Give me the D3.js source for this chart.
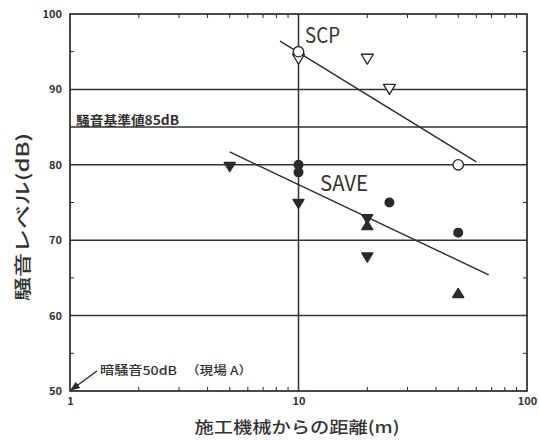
<!DOCTYPE html>
<html>
<head>
<meta charset="utf-8">
<script src="https://cdn.jsdelivr.net/npm/d3@7"></script>
<style>
  html, body { margin: 0; padding: 0; background: #fff; }
  svg { display: block; }
  text { font-family: "Noto Sans CJK JP", "Liberation Sans", sans-serif; fill: #333; }
</style>
</head>
<body>
<svg id="chart" width="539" height="440"></svg>
<script>
// Axis ticks and reference lines
const xTicks = [1, 10, 100];
const yTicks = [50, 60, 70, 80, 90, 100];
const yMinorTicks = [55, 65, 75, 95];
const xMinorTicks = [2, 3, 4, 5, 6, 7, 8, 9, 20, 30, 40, 50, 60, 70, 80, 90];
const gridY = [60, 70, 80, 85, 90];
const gridX = [10];

// SCP measurements (open markers): distance (m), level (dB)
const scpCircleX = [10, 50];
const scpCircleY = [95, 80];
const scpTriDownX = [10, 20, 25];
const scpTriDownY = [94, 94, 90];

// SAVE measurements (filled markers)
const saveCircleX = [10, 10, 25, 50];
const saveCircleY = [80, 79, 75, 71];
const saveTriDownX = [5, 10, 20, 20];
const saveTriDownY = [79.7, 74.8, 72.8, 67.7];
const saveTriUpX = [20, 50];
const saveTriUpY = [72, 63];

// Trend lines (endpoints)
const scpFitX = [8.3, 60];
const scpFitY = [96.4, 80.4];
const saveFitX = [5, 68];
const saveFitY = [81.7, 65.4];

const ink = "#2a2a2a";
const svg = d3.select("#chart");
const x = d3.scaleLog().domain([1, 100]).range([70, 527]);
const y = d3.scaleLinear().domain([50, 100]).range([391, 14]);

// Grid lines
svg.append("g").selectAll("line").data(gridY).join("line")
  .attr("x1", x(1)).attr("x2", x(100))
  .attr("y1", d => y(d)).attr("y2", d => y(d))
  .attr("stroke", "#333").attr("stroke-width", 1.5);
svg.append("g").selectAll("line").data(gridX).join("line")
  .attr("x1", d => x(d)).attr("x2", d => x(d))
  .attr("y1", y(50)).attr("y2", y(100))
  .attr("stroke", "#333").attr("stroke-width", 1.5);

// Frame
svg.append("rect")
  .attr("x", x(1)).attr("y", y(100))
  .attr("width", x(100) - x(1)).attr("height", y(50) - y(100))
  .attr("fill", "none").attr("stroke", ink).attr("stroke-width", 1.7);

// Axes with labels
const yAxis = svg.append("g").attr("transform", `translate(${x(1)},0)`)
  .call(d3.axisLeft(y).tickValues(yTicks).tickSize(0).tickPadding(8).tickFormat(d3.format("d")));
yAxis.select(".domain").remove();
yAxis.selectAll("text").attr("font-family", "Liberation Sans, Arial, sans-serif")
  .attr("font-size", 11).attr("font-weight", "bold").attr("fill", "#444");

const xAxis = svg.append("g").attr("transform", `translate(0,${y(50)})`)
  .call(d3.axisBottom(x).tickValues(xTicks).tickSize(0).tickPadding(6).tickFormat(d3.format("d")));
xAxis.select(".domain").remove();
xAxis.selectAll("text").attr("font-family", "Liberation Sans, Arial, sans-serif")
  .attr("font-size", 11).attr("font-weight", "bold").attr("fill", "#444");

// Minor ticks (inward) on all four sides
const tk = 4;
const minor = svg.append("g").attr("stroke", ink).attr("stroke-width", 1);
yMinorTicks.forEach(v => {
  minor.append("line").attr("x1", x(1)).attr("x2", x(1) + tk).attr("y1", y(v)).attr("y2", y(v));
  minor.append("line").attr("x1", x(100)).attr("x2", x(100) - tk).attr("y1", y(v)).attr("y2", y(v));
});
xMinorTicks.forEach(v => {
  minor.append("line").attr("x1", x(v)).attr("x2", x(v)).attr("y1", y(50)).attr("y2", y(50) - tk);
  minor.append("line").attr("x1", x(v)).attr("x2", x(v)).attr("y1", y(100)).attr("y2", y(100) + tk);
});

// Trend lines
const fit = (xs, ys) => d3.line().x(d => x(d[0])).y(d => y(d[1]))(d3.zip(xs, ys));
svg.append("path").attr("d", fit(scpFitX, scpFitY)).attr("fill", "none").attr("stroke", ink).attr("stroke-width", 1.4);
svg.append("path").attr("d", fit(saveFitX, saveFitY)).attr("fill", "none").attr("stroke", ink).attr("stroke-width", 1.4);

// Marker shapes
const triDown = (w, h) => `M${-w/2},${-h/2}L${w/2},${-h/2}L0,${h/2}Z`;
const triUp = (w, h) => `M${-w/2},${h/2}L${w/2},${h/2}L0,${-h/2}Z`;

function circles(xs, ys, r, filled) {
  svg.append("g").selectAll("circle").data(d3.zip(xs, ys)).join("circle")
    .attr("cx", d => x(d[0])).attr("cy", d => y(d[1])).attr("r", r)
    .attr("fill", filled ? ink : "#fff").attr("stroke", ink).attr("stroke-width", 1.4);
}
function tris(xs, ys, shape, filled) {
  svg.append("g").selectAll("path").data(d3.zip(xs, ys)).join("path")
    .attr("transform", d => `translate(${x(d[0])},${y(d[1])})`)
    .attr("d", shape)
    .attr("fill", filled ? ink : "#fff").attr("stroke", ink).attr("stroke-width", 1.4)
    .attr("stroke-linejoin", "round");
}

tris(scpTriDownX, scpTriDownY, triDown(12, 10), false);
circles(scpCircleX, scpCircleY, 5.2, false);
circles(saveCircleX, saveCircleY, 4.3, true);
tris(saveTriDownX, saveTriDownY, triDown(11, 9), true);
tris(saveTriUpX, saveTriUpY, triUp(11, 9), true);

// Series labels
svg.append("text").attr("x", 305).attr("y", 43)
  .attr("font-family", "DejaVu Sans Condensed, DejaVu Sans, sans-serif")
  .attr("font-size", 21).attr("textLength", 35).attr("lengthAdjust", "spacingAndGlyphs")
  .attr("fill", "#2a2a2a").text("SCP");
svg.append("text").attr("x", 320).attr("y", 191)
  .attr("font-family", "DejaVu Sans Condensed, DejaVu Sans, sans-serif")
  .attr("font-size", 21).attr("textLength", 48).attr("lengthAdjust", "spacingAndGlyphs")
  .attr("fill", "#2a2a2a").text("SAVE");

// Standard value label above the 85 dB line
svg.append("text").attr("x", 76).attr("y", 125)
  .attr("font-size", 13).attr("font-weight", "bold")
  .attr("textLength", 103).attr("lengthAdjust", "spacingAndGlyphs")
  .text("騒音基準値85dB");

// Background noise annotation with arrow
svg.append("defs").append("marker")
  .attr("id", "arrow").attr("viewBox", "0 0 10 10").attr("refX", 9).attr("refY", 5)
  .attr("markerWidth", 7).attr("markerHeight", 7).attr("orient", "auto")
  .append("path").attr("d", "M0,1L10,5L0,9Z").attr("fill", ink);
svg.append("line")
  .attr("x1", 97).attr("y1", 371).attr("x2", x(1) + 1).attr("y2", y(50) - 1)
  .attr("stroke", ink).attr("stroke-width", 1.4).attr("marker-end", "url(#arrow)");
svg.append("text").attr("x", 100).attr("y", 375)
  .attr("font-size", 12).attr("font-weight", 500)
  .attr("textLength", 77).attr("lengthAdjust", "spacingAndGlyphs")
  .text("暗騒音50dB");
svg.append("text").attr("x", 186).attr("y", 375)
  .attr("font-size", 12).attr("font-weight", 500)
  .attr("textLength", 66).attr("lengthAdjust", "spacingAndGlyphs")
  .text("（現場 A）");

// Axis titles
svg.append("text").attr("x", 297).attr("y", 433).attr("text-anchor", "middle")
  .attr("font-size", 16).attr("font-weight", 500)
  .attr("textLength", 205).attr("lengthAdjust", "spacingAndGlyphs")
  .text("施工機械からの距離(m)");
svg.append("text").attr("transform", "translate(29,217) rotate(-90)").attr("text-anchor", "middle")
  .attr("font-size", 17).attr("font-weight", 500)
  .attr("textLength", 168).attr("lengthAdjust", "spacingAndGlyphs")
  .text("騒音レベル(dB)");
</script>
</body>
</html>
